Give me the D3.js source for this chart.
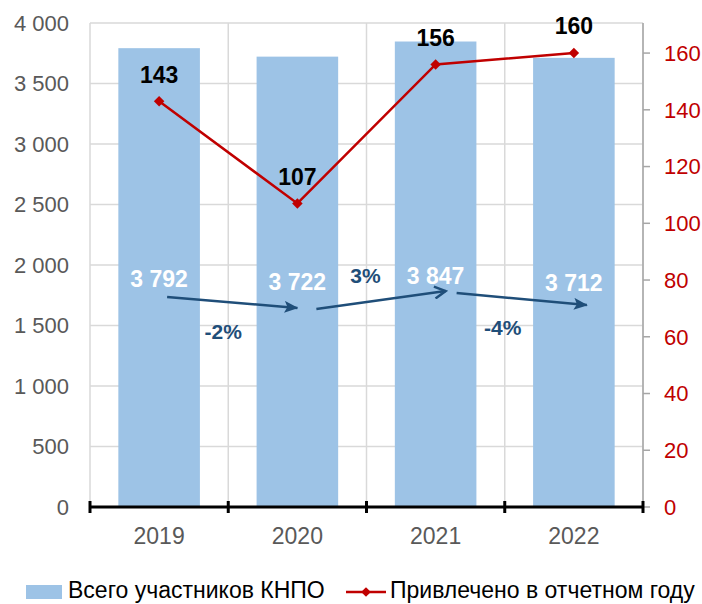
<!DOCTYPE html>
<html>
<head>
<meta charset="utf-8">
<title>КНПО</title>
<script src="https://cdn.jsdelivr.net/npm/d3@7"></script>
<style>
  body { margin: 0; background: #fff; }
  svg { display: block; font-family: "Liberation Sans", Arial, sans-serif; }
</style>
</head>
<body>
<svg id="chart" width="702" height="604"></svg>
<script>
// данные
var years = ["2019", "2020", "2021", "2022"]
var totalMembers = [3792, 3722, 3847, 3712]
var attracted = [143, 107, 156, 160]
var changeLabels = ["-2%", "3%", "-4%"]
var leftTicks = [0, 500, 1000, 1500, 2000, 2500, 3000, 3500, 4000]
var rightTicks = [0, 20, 40, 60, 80, 100, 120, 140, 160]
var legendNames = ["Всего участников КНПО", "Привлечено в отчетном году"]

var svg = d3.select("#chart")
var plot = { left: 90, right: 643, top: 23, bottom: 507 }

var x = d3.scaleBand().domain(years).range([plot.left, plot.right]).paddingInner(0.41).paddingOuter(0.205)
var yL = d3.scaleLinear().domain([0, 4000]).range([plot.bottom, plot.top])
var yR = d3.scaleLinear().domain([0, 170.6]).range([plot.bottom, plot.top])
var step = x.step()
var cx = function (d) { return x(d) + x.bandwidth() / 2 }
var fmt = function (v) { return d3.format(",")(v).replace(/,/g, " ") }

// сетка
var grid = svg.append("g").attr("stroke", "#d9d9d9").attr("stroke-width", 1.5)
grid.selectAll("line.h").data(leftTicks).enter().append("line")
    .attr("x1", plot.left).attr("x2", plot.right)
    .attr("y1", function (d) { return yL(d) }).attr("y2", function (d) { return yL(d) })
grid.selectAll("line.v").data(d3.range(years.length + 1)).enter().append("line")
    .attr("y1", plot.top).attr("y2", plot.bottom)
    .attr("x1", function (i) { return plot.left + i * step }).attr("x2", function (i) { return plot.left + i * step })

// столбцы
svg.append("g").selectAll("rect").data(years).enter().append("rect")
    .attr("x", function (d) { return x(d) })
    .attr("width", x.bandwidth())
    .attr("y", function (d, i) { return yL(totalMembers[i]) })
    .attr("height", function (d, i) { return plot.bottom - yL(totalMembers[i]) })
    .attr("fill", "#9dc3e6")

// левая ось
svg.append("g").selectAll("text").data(leftTicks).enter().append("text")
    .attr("x", 69).attr("y", function (d) { return yL(d) })
    .attr("dy", "0.36em").attr("text-anchor", "end")
    .attr("font-size", 22).attr("fill", "#595959")
    .text(fmt)

// правая ось
var ra = svg.append("g")
ra.append("line").attr("x1", plot.right).attr("x2", plot.right).attr("y1", plot.top).attr("y2", plot.bottom)
    .attr("stroke", "#a6a6a6").attr("stroke-width", 1.5)
ra.selectAll("line.t").data(rightTicks).enter().append("line")
    .attr("x1", plot.right).attr("x2", plot.right + 7)
    .attr("y1", function (d) { return yR(d) }).attr("y2", function (d) { return yR(d) })
    .attr("stroke", "#a6a6a6").attr("stroke-width", 1.5)
ra.selectAll("text").data(rightTicks).enter().append("text")
    .attr("x", 664).attr("y", function (d) { return yR(d) })
    .attr("dy", "0.36em").attr("font-size", 22).attr("fill", "#c00000")
    .text(function (d) { return d })

// нижняя ось
var ba = svg.append("g").attr("stroke", "#000").attr("stroke-width", 3)
ba.append("line").attr("x1", plot.left).attr("x2", plot.right).attr("y1", plot.bottom).attr("y2", plot.bottom)
ba.selectAll("line.t").data(d3.range(years.length + 1)).enter().append("line")
    .attr("x1", function (i) { return plot.left + i * step }).attr("x2", function (i) { return plot.left + i * step })
    .attr("y1", plot.bottom - 6).attr("y2", plot.bottom + 6)
svg.append("g").selectAll("text").data(years).enter().append("text")
    .attr("x", cx).attr("y", 536).attr("dy", "0.36em").attr("text-anchor", "middle")
    .attr("font-size", 23).attr("fill", "#595959")
    .text(function (d) { return d })

// подписи внутри столбцов
var labelLift = [1885, 1860, 1915, 1850]
svg.append("g").selectAll("text").data(years).enter().append("text")
    .attr("x", cx).attr("y", function (d, i) { return yL(labelLift[i]) })
    .attr("dy", "0.36em").attr("text-anchor", "middle")
    .attr("font-size", 23).attr("font-weight", "bold").attr("fill", "#fff")
    .text(function (d, i) { return fmt(totalMembers[i]) })

// стрелки изменений
var defs = svg.append("defs")
defs.append("marker").attr("id", "tri").attr("viewBox", "0 0 14 12").attr("refX", 13).attr("refY", 6)
    .attr("markerWidth", 14).attr("markerHeight", 12).attr("orient", "auto").attr("markerUnits", "userSpaceOnUse")
    .append("path").attr("d", "M0,0 L14,6 L0,12 L3,6 z").attr("fill", "#1f4e79")
defs.append("marker").attr("id", "open").attr("viewBox", "0 0 14 14").attr("refX", 12).attr("refY", 7)
    .attr("markerWidth", 14).attr("markerHeight", 14).attr("orient", "auto").attr("markerUnits", "userSpaceOnUse")
    .append("path").attr("d", "M1,1 L12,7 L1,13").attr("fill", "none").attr("stroke", "#1f4e79").attr("stroke-width", 2.5)

var arrowFrom = [1736, 1636, 1769]
var arrowTo = [1645, 1785, 1669]
var arrowHeads = ["tri", "open", "tri"]
var arrowStart = [8, 19, 21]
var arrowEnd = [0, 10, 13]
svg.append("g").selectAll("line").data(changeLabels).enter().append("line")
    .attr("x1", function (d, i) { return cx(years[i]) + arrowStart[i] })
    .attr("y1", function (d, i) { return yL(arrowFrom[i]) })
    .attr("x2", function (d, i) { return cx(years[i + 1]) + arrowEnd[i] })
    .attr("y2", function (d, i) { return yL(arrowTo[i]) })
    .attr("stroke", "#1f4e79").attr("stroke-width", 2.5)
    .attr("marker-end", function (d, i) { return "url(#" + arrowHeads[i] + ")" })

var changeLevel = [1455, 1915, 1485]
var changeShift = [-5, -1, -2]
svg.append("g").selectAll("text").data(changeLabels).enter().append("text")
    .attr("x", function (d, i) { return plot.left + (i + 1) * step + changeShift[i] })
    .attr("y", function (d, i) { return yL(changeLevel[i]) })
    .attr("dy", "0.36em").attr("text-anchor", "middle")
    .attr("font-size", 21).attr("font-weight", "bold").attr("fill", "#1f4e79")
    .text(function (d) { return d })

// линия привлечённых
var line = d3.line().x(function (d, i) { return cx(years[i]) }).y(function (d) { return yR(d) })
svg.append("path").datum(attracted).attr("d", line)
    .attr("fill", "none").attr("stroke", "#c00000").attr("stroke-width", 2.5)
svg.append("g").selectAll("path").data(attracted).enter().append("path")
    .attr("d", d3.symbol(d3.symbolDiamond2, 70))
    .attr("transform", function (d, i) { return "translate(" + cx(years[i]) + "," + yR(d) + ")" })
    .attr("fill", "#c00000")
svg.append("g").selectAll("text").data(attracted).enter().append("text")
    .attr("x", function (d, i) { return cx(years[i]) })
    .attr("y", function (d) { return yR(d) - 27 })
    .attr("dy", "0.36em").attr("text-anchor", "middle")
    .attr("font-size", 23).attr("font-weight", "bold").attr("fill", "#000")
    .text(function (d) { return d })

// легенда
var lg = svg.append("g")
lg.append("rect").attr("x", 26).attr("y", 585).attr("width", 36).attr("height", 14).attr("fill", "#9dc3e6")
lg.append("text").attr("x", 68).attr("y", 598).attr("font-size", 23).attr("fill", "#000").text(legendNames[0])
lg.append("line").attr("x1", 346).attr("x2", 386).attr("y1", 592).attr("y2", 592)
    .attr("stroke", "#c00000").attr("stroke-width", 2.5)
lg.append("path").attr("d", d3.symbol(d3.symbolDiamond2, 60)).attr("transform", "translate(366,592)").attr("fill", "#c00000")
lg.append("text").attr("x", 390).attr("y", 598).attr("font-size", 23).attr("fill", "#000").text(legendNames[1])
</script>
</body>
</html>
